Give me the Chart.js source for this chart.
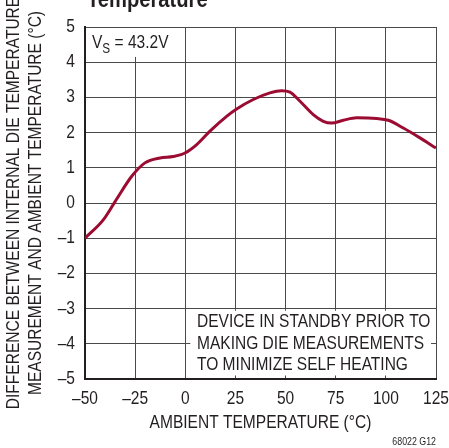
<!DOCTYPE html>
<html>
<head>
<meta charset="utf-8">
<script src="https://cdn.jsdelivr.net/npm/chart.js@4/dist/chart.umd.min.js"></script>
<style>
  html, body { margin: 0; padding: 0; background: #fff; }
  #wrap { width: 449px; height: 448px; position: relative; }
</style>
</head>
<body>
<div id="wrap"><canvas id="myChart"></canvas></div>
<script>
// data
const ambientTemp = [-50, -40.9, -35, -26.7, -20.1, -12.6, -6, -0.2, 5.7, 12.3, 20.6, 25.6, 33.9, 42.2, 48, 52.2, 57.2, 63.8, 68.8, 73, 78.8, 85.4, 95.4, 101.2, 108.7, 117, 125];
const dieDiff = [-1.0, -0.48, 0.04, 0.76, 1.14, 1.28, 1.32, 1.42, 1.66, 2.04, 2.46, 2.67, 2.94, 3.13, 3.19, 3.15, 2.89, 2.51, 2.32, 2.27, 2.35, 2.42, 2.40, 2.35, 2.13, 1.85, 1.56];
const xTicks = [-50, -25, 0, 25, 50, 75, 100, 125];
const yTicks = [-5, -4, -3, -2, -1, 0, 1, 2, 3, 4, 5];
const noteLines = ["DEVICE IN STANDBY PRIOR TO", "MAKING DIE MEASUREMENTS", "TO MINIMIZE SELF HEATING"];

const FONT = "'Liberation Sans', Arial, sans-serif";
const SQUEEZE = 0.84; // no narrow face installed, so squeeze text horizontally
const minus = v => String(v).replace("-", "\u2013");

const ctx = document.getElementById("myChart");
const g = ctx.getContext("2d");
const rawFill = g.fillText.bind(g);
g.fillText = function (t, x, y) {
  this.save();
  this.translate(x, y);
  this.scale(SQUEEZE, 1);
  rawFill(t, 0, 0);
  this.restore();
};

// notes, boxes and title text
const notes = {
  id: "notes",
  beforeDatasetsDraw(chart) {
    const c = chart.ctx;
    const x = chart.scales.x, y = chart.scales.y;
    c.save();
    c.fillStyle = "#fff";
    // Vs box
    c.fillRect(x.getPixelForValue(-50) + 1, y.getPixelForValue(5) + 1,
      x.getPixelForValue(-0.6) - x.getPixelForValue(-50) - 1, y.getPixelForValue(4.15) - y.getPixelForValue(5) - 1);
    // standby note box
    c.fillRect(x.getPixelForValue(2.5), y.getPixelForValue(-3.06),
      x.getPixelForValue(122.5) - x.getPixelForValue(2.5), y.getPixelForValue(-4.9) - y.getPixelForValue(-3.06));

    c.fillStyle = "#231f20";
    c.textBaseline = "alphabetic";
    c.textAlign = "left";
    c.font = "18.5px " + FONT;
    c.fillText("V", 92, 48);
    let w = c.measureText("V").width * SQUEEZE;
    c.font = "14px " + FONT;
    c.fillText("S", 92 + w, 53);
    let w2 = c.measureText("S").width * SQUEEZE;
    c.font = "18.5px " + FONT;
    c.fillText(" = 43.2V", 92 + w + w2, 48);

    c.textBaseline = "middle";
    noteLines.forEach((t, i) => c.fillText(t, 197, 322 + i * 21.7));
    c.restore();
  },
  afterDraw(chart) {
    const c = chart.ctx;
    c.save();
    c.fillStyle = "#231f20";
    c.font = "bold 24px " + FONT;
    c.textBaseline = "alphabetic";
    c.fillText("Temperature", 87, 7);
    c.font = "10.5px " + FONT;
    c.textAlign = "right";
    c.fillText("68022 G12", 436, 445);
    c.restore();
  }
};

new Chart(ctx, {
  type: "line",
  data: {
    datasets: [{
      data: ambientTemp.map((t, i) => ({ x: t, y: dieDiff[i] })),
      borderColor: "#9c0b31",
      borderWidth: 3,
      pointRadius: 0,
      cubicInterpolationMode: "monotone",
      fill: false
    }]
  },
  plugins: [notes],
  options: {
    responsive: true,
    maintainAspectRatio: false,
    animation: false,
    layout: { padding: { left: 0, right: 13, top: 27, bottom: 0 } },
    plugins: { legend: { display: false }, tooltip: { enabled: false } },
    scales: {
      x: {
        type: "linear",
        min: -50, max: 125,
        afterBuildTicks: s => { s.ticks = xTicks.map(v => ({ value: v })); },
        afterFit: s => { s.height = 69; s.paddingLeft = 0; s.paddingRight = 0; },
        grid: { color: "#4a4a4a", lineWidth: 1, drawTicks: false },
        border: { color: "#231f20", width: 2 },
        ticks: { color: "#231f20", font: { family: FONT, size: 18.5 }, padding: 9, maxRotation: 0, autoSkip: false, callback: minus },
        title: { display: true, text: "AMBIENT TEMPERATURE (\u00b0C)", color: "#231f20",
          font: { family: FONT, size: 18.5 }, padding: { top: 0, bottom: 14 } }
      },
      y: {
        min: -5, max: 5,
        afterBuildTicks: s => { s.ticks = yTicks.map(v => ({ value: v })); },
        afterFit: s => { s.width = 85; s.paddingTop = 0; s.paddingBottom = 0; },
        grid: { color: "#4a4a4a", lineWidth: 1, drawTicks: false },
        border: { color: "#231f20", width: 2 },
        ticks: { color: "#231f20", font: { family: FONT, size: 18.5 }, padding: 10, autoSkip: false, callback: minus },
        title: { display: true, text: ["DIFFERENCE BETWEEN INTERNAL DIE TEMPERATURE", "MEASUREMENT AND AMBIENT TEMPERATURE (\u00b0C)"],
          color: "#231f20", font: { family: FONT, size: 18.5, lineHeight: 1.17 }, padding: { top: 3, bottom: 0 } }
      }
    }
  }
});
</script>
</body>
</html>
